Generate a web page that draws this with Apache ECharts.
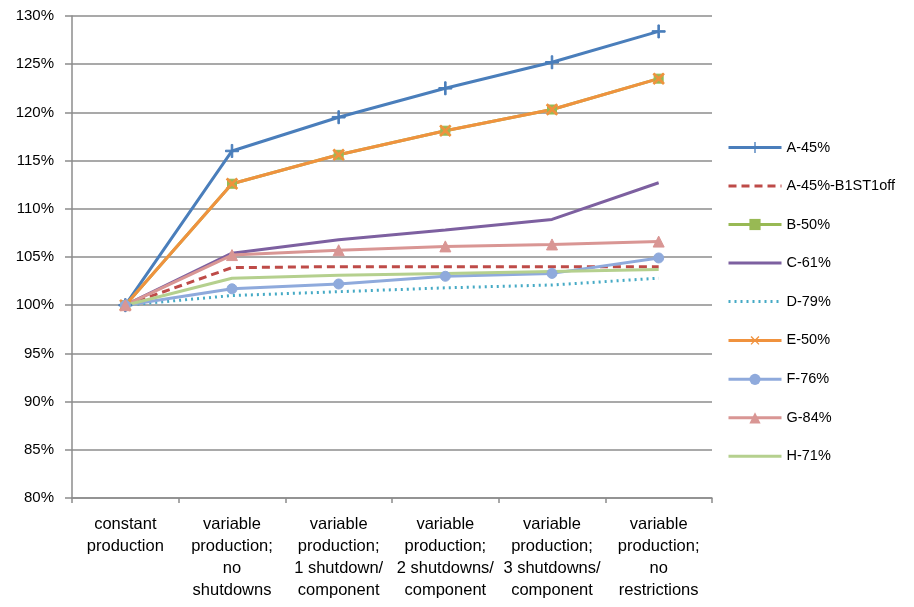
<!DOCTYPE html>
<html><head><meta charset="utf-8">
<script src="https://cdn.jsdelivr.net/npm/echarts@6/dist/echarts.min.js"></script>
<style>html,body{margin:0;padding:0;background:#fff}#c{width:914px;height:607px}</style>
</head><body><div id="c"></div>
<script>
var categories = ['constant\nproduction','variable\nproduction;\nno\nshutdowns','variable\nproduction;\n1 shutdown/\ncomponent','variable\nproduction;\n2 shutdowns/\ncomponent','variable\nproduction;\n3 shutdowns/\ncomponent','variable\nproduction;\nno\nrestrictions'];
var seriesNames = ['A-45%','A-45%-B1ST1off','B-50%','C-61%','D-79%','E-50%','F-76%','G-84%','H-71%'];
var A    = [100, 116.0, 119.5, 122.5, 125.2, 128.4];
var Aoff = [100, 103.9, 104.0, 104.0, 104.0, 104.0];
var B    = [100, 112.6, 115.6, 118.1, 120.3, 123.5];
var C    = [100, 105.4, 106.8, 107.8, 108.9, 112.7];
var D    = [100, 101.0, 101.4, 101.8, 102.1, 102.8];
var E    = [100, 112.6, 115.6, 118.1, 120.3, 123.5];
var F    = [100, 101.7, 102.2, 103.0, 103.3, 104.9];
var G    = [100, 105.2, 105.7, 106.1, 106.3, 106.6];
var H    = [100, 102.8, 103.1, 103.3, 103.5, 103.7];
var yTicks = {min: 80, max: 130, interval: 5};
var noMarker = ['A-45%-B1ST1off','C-61%','D-79%','H-71%'];

var plus = 'path://M4.4,0 L5.6,0 L5.6,4.4 L10,4.4 L10,5.6 L5.6,5.6 L5.6,10 L4.4,10 L4.4,5.6 L0,5.6 L0,4.4 L4.4,4.4 Z';
function mk(name, data, color, opts) {
  return {
    name: name, type: 'line', data: data, color: color,
    lineStyle: {color: color, width: 3, type: opts.type || 'solid'},
    itemStyle: {color: color, borderColor: color},
    symbol: opts.symbol || 'none', symbolSize: opts.size || 9,
    symbolRotate: opts.rotate || 0,
    showSymbol: !!opts.symbol, animation: false
  };
}
var clear = 'rgba(0,0,0,0)';
var legendData = seriesNames.map(function (n) {
  return noMarker.indexOf(n) >= 0
    ? {name: n, itemStyle: {color: clear, borderColor: clear, borderWidth: 0, opacity: 0}}
    : {name: n};
});
var font = 'Liberation Sans';
var chart = echarts.init(document.getElementById('c'), null, {renderer: 'canvas'});
chart.setOption({
  backgroundColor: '#fff',
  animation: false,
  grid: {left: 72, top: 16, width: 640, height: 482, containLabel: false},
  legend: {
    orient: 'vertical', left: 722, top: 135, itemWidth: 53, itemHeight: 14, itemGap: 23.5,
    lineStyle: {width: 3},
    textStyle: {fontFamily: font, fontSize: 14.5, color: '#000'},
    data: legendData
  },
  xAxis: {
    type: 'category', data: categories, boundaryGap: true,
    axisLine: {lineStyle: {color: '#8c8c8c', width: 1.5}},
    axisTick: {show: true, length: 5, lineStyle: {color: '#8c8c8c', width: 1.5}},
    axisLabel: {interval: 0, fontFamily: font, fontSize: 16.5, color: '#000', lineHeight: 22, margin: 15}
  },
  yAxis: {
    type: 'value', min: yTicks.min, max: yTicks.max, interval: yTicks.interval,
    axisLine: {show: true, lineStyle: {color: '#8c8c8c', width: 1.5}},
    axisTick: {show: true, length: 7, inside: false, lineStyle: {color: '#8c8c8c', width: 1.5}},
    splitLine: {lineStyle: {color: '#8c8c8c', width: 1.5}},
    axisLabel: {formatter: '{value}%', fontFamily: font, fontSize: 15, color: '#000', margin: 18}
  },
  series: [
    mk('A-45%', A, '#4A7EBB', {symbol: plus, size: 13}),
    mk('A-45%-B1ST1off', Aoff, '#BE4B48', {type: [8, 5]}),
    mk('B-50%', B, '#98B954', {symbol: 'rect', size: 9}),
    mk('C-61%', C, '#7D60A0', {}),
    mk('D-79%', D, '#46AAC5', {type: [2, 4]}),
    mk('E-50%', E, '#F0923E', {symbol: plus, size: 14, rotate: 45}),
    mk('F-76%', F, '#8FAADC', {symbol: 'circle', size: 10}),
    mk('G-84%', G, '#D99694', {symbol: 'triangle', size: 11}),
    mk('H-71%', H, '#B5D08E', {})
  ]
});
</script></body></html>
